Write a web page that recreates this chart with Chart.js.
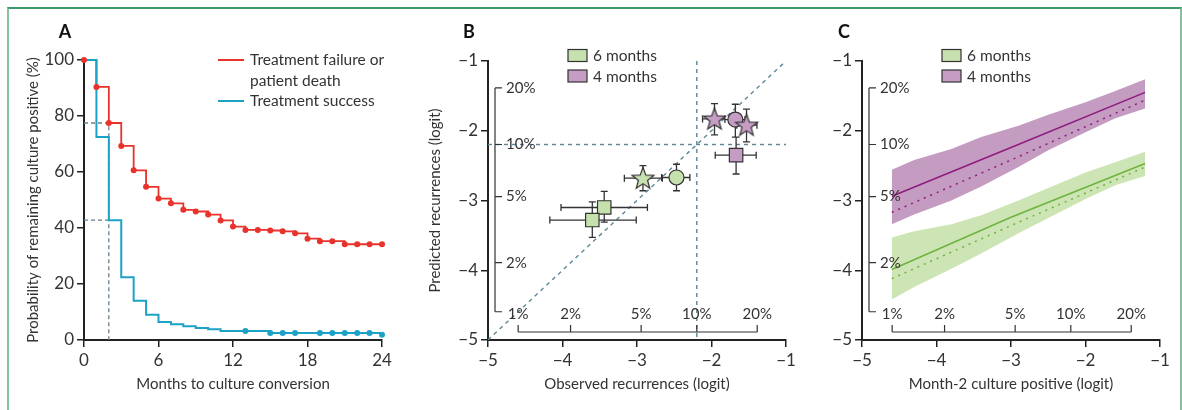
<!DOCTYPE html>
<html>
<head>
<meta charset="utf-8">
<script src="https://cdn.jsdelivr.net/npm/chart.js@4.4.1/dist/chart.umd.min.js"></script>
<style>
  body { margin: 0; background: #fff; }
  #wrap { position: relative; width: 1182px; height: 410px; overflow: hidden; }
  .frame { position: absolute; left: 7px; top: 7px; width: 1171px; height: 500px;
           border: 2px solid #86c1a0; border-top-color: #3d9a6b; }
  canvas { position: absolute; top: 0; }
</style>
</head>
<body>
<div id="wrap">
  <div class="frame"></div>
  <canvas id="cA" width="400" height="410" style="left:0px"></canvas>
  <canvas id="cB" width="400" height="410" style="left:400px"></canvas>
  <canvas id="cC" width="382" height="410" style="left:800px"></canvas>
</div>
<script>
// ---- panel A: months to culture conversion
const months = [0,1,2,3,4,5,6,7,8,9,10,11,12,13,14,15,16,17,18,19,20,21,22,23,24];
const failurePct = [100, 90.4, 77.5, 69.3, 60.6, 54.7, 50.5, 48.8, 46.5, 45.9, 44.8, 42.7, 40.5,
                    39.3, 39.3, 39.1, 38.8, 38.1, 36.2, 35.3, 35.3, 34.2, 34.2, 34.2, 34.2];
const successPct = [100, 72.5, 42.8, 22.4, 14.0, 9.0, 6.4, 5.6, 4.9, 4.3, 3.8, 3.2, 3.2,
                    3.2, 3.2, 2.5, 2.5, 2.5, 2.5, 2.5, 2.5, 2.5, 2.5, 2.5, 1.9];
const successMarked = [13,15,16,17,19,20,21,22,23,24];
const refFailure = [{x:0, y:77.5}, {x:2, y:77.5}, {x:2, y:0}];
const refSuccess = [{x:0, y:42.8}, {x:2, y:42.8}];

// ---- panel B: observed vs predicted (logit)
const obs6 = [-3.44, -3.60, -2.92, -2.47];
const pred6 = [-3.10, -3.28, -2.68, -2.67];
const obs6Lo = [-4.02, -4.17, -3.17, -2.67];
const obs6Hi = [-2.86, -3.01, -2.66, -2.29];
const pred6Lo = [-3.31, -3.53, -2.86, -2.86];
const pred6Hi = [-2.87, -3.02, -2.50, -2.48];
const shape6 = ['rect', 'rect', 'star', 'circle'];

const obs4 = [-1.96, -1.68, -1.53, -1.67];
const pred4 = [-1.83, -1.84, -1.92, -2.35];
const obs4Lo = [-2.12, -1.82, -1.66, -1.95];
const obs4Hi = [-1.82, -1.55, -1.39, -1.40];
const pred4Lo = [-2.06, -2.09, -2.16, -2.62];
const pred4Hi = [-1.61, -1.62, -1.69, -2.09];
const shape4 = ['star', 'circle', 'star', 'rect'];

const pctTicks = [1, 2, 5, 10, 20];
const cutoffPct = 10;

// ---- panel C: month-2 culture positive (logit)
const bandX = [-4.6, -4.3, -3.8, -3.4, -2.9, -2.5, -2.0, -1.6, -1.2];
const band4Hi = [-2.56, -2.42, -2.26, -2.09, -1.93, -1.77, -1.59, -1.43, -1.26];
const band4Lo = [-3.34, -3.20, -3.00, -2.80, -2.52, -2.28, -2.02, -1.82, -1.68];
const band6Hi = [-3.53, -3.44, -3.34, -3.21, -3.00, -2.82, -2.60, -2.45, -2.30];
const band6Lo = [-4.42, -4.24, -3.98, -3.76, -3.47, -3.25, -2.98, -2.78, -2.65];
const lineX = [-4.6, -3.0, -1.2];
const fit4 = [-2.94, -2.24, -1.45];
const obsFit4 = [-3.17, -2.42, -1.56];
const fit6 = [-3.99, -3.24, -2.47];
const obsFit6 = [-4.12, -3.36, -2.52];

const red = '#e8322b', blue = '#1ca2c6', refGray = '#6b7f8b', dashBlue = '#5d8796';
const greenFill = '#c6e0ae', purpleFill = '#c59dc4';
const ink = '#333333', axisInk = '#222222';
const FONT = 'Lato, "Open Sans", sans-serif';

function logit(p) { return Math.log(p / (100 - p)); }
function pts(xs, ys) { return xs.map((x, i) => ({x: x, y: ys[i]})); }
function minus(v) { return v < 0 ? '\u2212' + Math.abs(v) : String(v); }

function makeStar(fill) {
  const c = document.createElement('canvas');
  c.width = 26; c.height = 26;
  const g = c.getContext('2d');
  g.beginPath();
  for (let i = 0; i < 10; i++) {
    const r = i % 2 ? 4.8 : 11.5;
    const a = -Math.PI / 2 + i * Math.PI / 5;
    const px = 13 + r * Math.cos(a), py = 13.8 + r * Math.sin(a);
    if (i) g.lineTo(px, py); else g.moveTo(px, py);
  }
  g.closePath();
  g.fillStyle = fill; g.fill();
  g.strokeStyle = ink; g.lineWidth = 1.2; g.stroke();
  return c;
}

function axis(min, max, step, titleText, fitSize, isY, titlePad) {
  return {
    type: 'linear', min: min, max: max,
    ticks: { stepSize: step, color: ink, font: {family: FONT, size: 17}, padding: 3,
             callback: v => minus(v) },
    grid: { display: true, drawOnChartArea: false, drawTicks: true, tickLength: 7,
            color: axisInk, lineWidth: 1.5 },
    border: { display: true, color: axisInk, width: 2 },
    title: { display: !!titleText, text: titleText, color: ink, font: {family: FONT, size: 15},
             padding: isY ? {top: titlePad, bottom: 0} : {top: 0, bottom: titlePad} },
    afterFit: s => { if (isY) s.width = fitSize; else s.height = fitSize; }
  };
}

function baseOptions(scales, pad) {
  return {
    responsive: false, animation: false, events: [],
    layout: { padding: pad },
    plugins: { legend: {display: false}, tooltip: {enabled: false} },
    scales: scales
  };
}

function letter(ctx, txt, x) {
  ctx.save();
  ctx.fillStyle = '#111';
  ctx.font = 'bold 18px ' + FONT;
  ctx.textAlign = 'center'; ctx.textBaseline = 'middle';
  ctx.fillText(txt, x, 32);
  ctx.restore();
}

function boxLegend(chart) {
  const {ctx, chartArea} = chart;
  const bx = chartArea.left + 80;
  const items = [['6 months', greenFill, 49.5], ['4 months', purpleFill, 70]];
  ctx.save();
  ctx.font = '15.5px ' + FONT; ctx.textBaseline = 'middle'; ctx.textAlign = 'left';
  items.forEach(it => {
    ctx.fillStyle = it[1];
    ctx.fillRect(bx, it[2], 19, 12);
    ctx.strokeStyle = ink; ctx.lineWidth = 1.2;
    ctx.strokeRect(bx, it[2], 19, 12);
    ctx.fillStyle = ink;
    ctx.fillText(it[0], bx + 25, it[2] + 6.5);
  });
  ctx.restore();
}

const pctAxes = {
  id: 'pctAxes',
  afterDatasetsDraw(chart) {
    const {ctx, chartArea, scales: {x, y}} = chart;
    const ax = chartArea.left + 7, ay = chartArea.bottom - 8;
    ctx.save();
    ctx.strokeStyle = ink; ctx.lineWidth = 1.2; ctx.fillStyle = ink;
    ctx.font = '15px ' + FONT;
    ctx.beginPath();
    ctx.moveTo(ax, y.getPixelForValue(logit(pctTicks[pctTicks.length - 1])));
    ctx.lineTo(ax, y.getPixelForValue(logit(pctTicks[0])));
    pctTicks.forEach(p => {
      const py = y.getPixelForValue(logit(p));
      ctx.moveTo(ax, py); ctx.lineTo(ax + 7, py);
    });
    ctx.moveTo(x.getPixelForValue(logit(pctTicks[0])), ay);
    ctx.lineTo(x.getPixelForValue(logit(pctTicks[pctTicks.length - 1])), ay);
    pctTicks.forEach(p => {
      const px = x.getPixelForValue(logit(p));
      ctx.moveTo(px, ay); ctx.lineTo(px, ay - 7);
    });
    ctx.stroke();
    ctx.textBaseline = 'middle';
    ctx.textAlign = 'left';
    pctTicks.slice(1).forEach(p => ctx.fillText(p + '%', ax + 11, y.getPixelForValue(logit(p))));
    ctx.textAlign = 'center';
    pctTicks.forEach(p => ctx.fillText(p + '%', x.getPixelForValue(logit(p)), ay - 18));
    ctx.restore();
  }
};

const errorBars = {
  id: 'errorBars',
  beforeDatasetDraw(chart, args) {
    const ds = chart.data.datasets[args.index];
    if (!ds.errs) return;
    const {ctx, scales: {x, y}} = chart;
    const e = ds.errs, cap = 3.5;
    ctx.save();
    ctx.strokeStyle = ink; ctx.lineWidth = 1.3;
    ctx.beginPath();
    ds.data.forEach((d, i) => {
      const px = x.getPixelForValue(d.x), py = y.getPixelForValue(d.y);
      const x0 = x.getPixelForValue(e.xLo[i]), x1 = x.getPixelForValue(e.xHi[i]);
      const y0 = y.getPixelForValue(e.yLo[i]), y1 = y.getPixelForValue(e.yHi[i]);
      ctx.moveTo(x0, py); ctx.lineTo(x1, py);
      ctx.moveTo(x0, py - cap); ctx.lineTo(x0, py + cap);
      ctx.moveTo(x1, py - cap); ctx.lineTo(x1, py + cap);
      ctx.moveTo(px, y0); ctx.lineTo(px, y1);
      ctx.moveTo(px - cap, y0); ctx.lineTo(px + cap, y0);
      ctx.moveTo(px - cap, y1); ctx.lineTo(px + cap, y1);
    });
    ctx.stroke();
    ctx.restore();
  }
};

// ---------- chart A
new Chart(document.getElementById('cA'), {
  type: 'line',
  data: { datasets: [
    { data: pts(months, failurePct), showLine: false, pointRadius: 3, pointBorderWidth: 0,
      pointBackgroundColor: red, clip: false, order: 1 },
    { data: pts(months, successPct), stepped: 'before', borderColor: blue, borderWidth: 2,
      pointRadius: months.map(m => successMarked.includes(m) ? 3 : 0), pointBorderWidth: 0,
      pointBackgroundColor: blue, clip: false, order: 2 },
    { data: pts(months, failurePct), stepped: 'before', borderColor: red, borderWidth: 1.8,
      pointRadius: 0, clip: false, order: 3 },
    { data: refFailure, borderColor: refGray, borderWidth: 1.3, borderDash: [4, 3],
      pointRadius: 0, order: 4 },
    { data: refSuccess, borderColor: refGray, borderWidth: 1.3, borderDash: [4, 3],
      pointRadius: 0, order: 4 }
  ]},
  options: baseOptions({
    x: axis(0, 24, 6, 'Months to culture conversion', 70, false, 17),
    y: axis(0, 100, 20, 'Probability of remaining culture positive (%)', 84, true, 24)
  }, {left: 0, top: 60, right: 18, bottom: 0}),
  plugins: [{
    id: 'annA',
    afterDraw(chart) {
      const ctx = chart.ctx;
      letter(ctx, 'A', 65);
      ctx.save();
      ctx.lineWidth = 2;
      ctx.strokeStyle = red;
      ctx.beginPath(); ctx.moveTo(218, 60); ctx.lineTo(244, 60); ctx.stroke();
      ctx.strokeStyle = blue;
      ctx.beginPath(); ctx.moveTo(218, 101); ctx.lineTo(244, 101); ctx.stroke();
      ctx.fillStyle = ink; ctx.font = '15.5px ' + FONT;
      ctx.textBaseline = 'middle'; ctx.textAlign = 'left';
      ctx.fillText('Treatment failure or', 250, 60);
      ctx.fillText('patient death', 250, 80.5);
      ctx.fillText('Treatment success', 250, 101);
      ctx.restore();
    }
  }]
});

// ---------- chart B
const starGreen = makeStar(greenFill), starPurple = makeStar(purpleFill);
function styleOf(s, star) { return s === 'star' ? star : s; }
function radiusOf(s) { return s === 'rect' ? 9.5 : 7.5; }
const cut = logit(cutoffPct);

new Chart(document.getElementById('cB'), {
  type: 'line',
  data: { datasets: [
    { data: pts(obs6, pred6), showLine: false, pointStyle: shape6.map(s => styleOf(s, starGreen)),
      pointRadius: shape6.map(radiusOf), backgroundColor: greenFill, borderColor: ink,
      pointBorderWidth: 1.2, clip: false, order: 1,
      errs: {xLo: obs6Lo, xHi: obs6Hi, yLo: pred6Lo, yHi: pred6Hi} },
    { data: pts(obs4, pred4), showLine: false, pointStyle: shape4.map(s => styleOf(s, starPurple)),
      pointRadius: shape4.map(radiusOf), backgroundColor: purpleFill, borderColor: ink,
      pointBorderWidth: 1.2, clip: false, order: 1,
      errs: {xLo: obs4Lo, xHi: obs4Hi, yLo: pred4Lo, yHi: pred4Hi} },
    { data: [{x: -5, y: -5}, {x: -1, y: -1}], borderColor: dashBlue, borderWidth: 1.4,
      borderDash: [4, 4], pointRadius: 0, order: 5 },
    { data: [{x: cut, y: -1}, {x: cut, y: -5}], borderColor: dashBlue, borderWidth: 1.4,
      borderDash: [4, 4], pointRadius: 0, order: 5 },
    { data: [{x: -5, y: cut}, {x: -1, y: cut}], borderColor: dashBlue, borderWidth: 1.4,
      borderDash: [4, 4], pointRadius: 0, order: 5 }
  ]},
  options: baseOptions({
    x: axis(-5, -1, 1, 'Observed recurrences (logit)', 70, false, 17),
    y: axis(-5, -1, 1, 'Predicted recurrences (logit)', 88, true, 26)
  }, {left: 0, top: 61, right: 14, bottom: 0}),
  plugins: [pctAxes, errorBars, {
    id: 'annB',
    afterDraw(chart) { letter(chart.ctx, 'B', 69); boxLegend(chart); }
  }]
});

// ---------- chart C
function bandSet(ys, color, fill) {
  return { data: pts(bandX, ys), borderWidth: 0, borderColor: 'rgba(0,0,0,0)', pointRadius: 0,
           fill: fill ? '+1' : false, backgroundColor: color, order: 10 };
}
function fitSet(ys, color, dotted) {
  return { data: pts(lineX, ys), borderColor: color, borderWidth: 1.5, pointRadius: 0,
           borderDash: dotted ? [2, 5] : [], fill: false, order: 2 };
}

new Chart(document.getElementById('cC'), {
  type: 'line',
  data: { datasets: [
    bandSet(band4Hi, '#c49bc1', true),
    bandSet(band4Lo, '#c49bc1', false),
    bandSet(band6Hi, '#cde4b4', true),
    bandSet(band6Lo, '#cde4b4', false),
    fitSet(obsFit6, '#6cb33f', true),
    fitSet(fit6, '#6cb33f', false),
    fitSet(obsFit4, '#8e1b7f', true),
    fitSet(fit4, '#8e1b7f', false)
  ]},
  options: baseOptions({
    x: axis(-5, -1, 1, 'Month-2 culture positive (logit)', 70, false, 17),
    y: axis(-5, -1, 1, '', 62, true, 0)
  }, {left: 0, top: 61, right: 22, bottom: 0}),
  plugins: [pctAxes, {
    id: 'annC',
    afterDraw(chart) { letter(chart.ctx, 'C', 44); boxLegend(chart); }
  }]
});
</script>
</body>
</html>
